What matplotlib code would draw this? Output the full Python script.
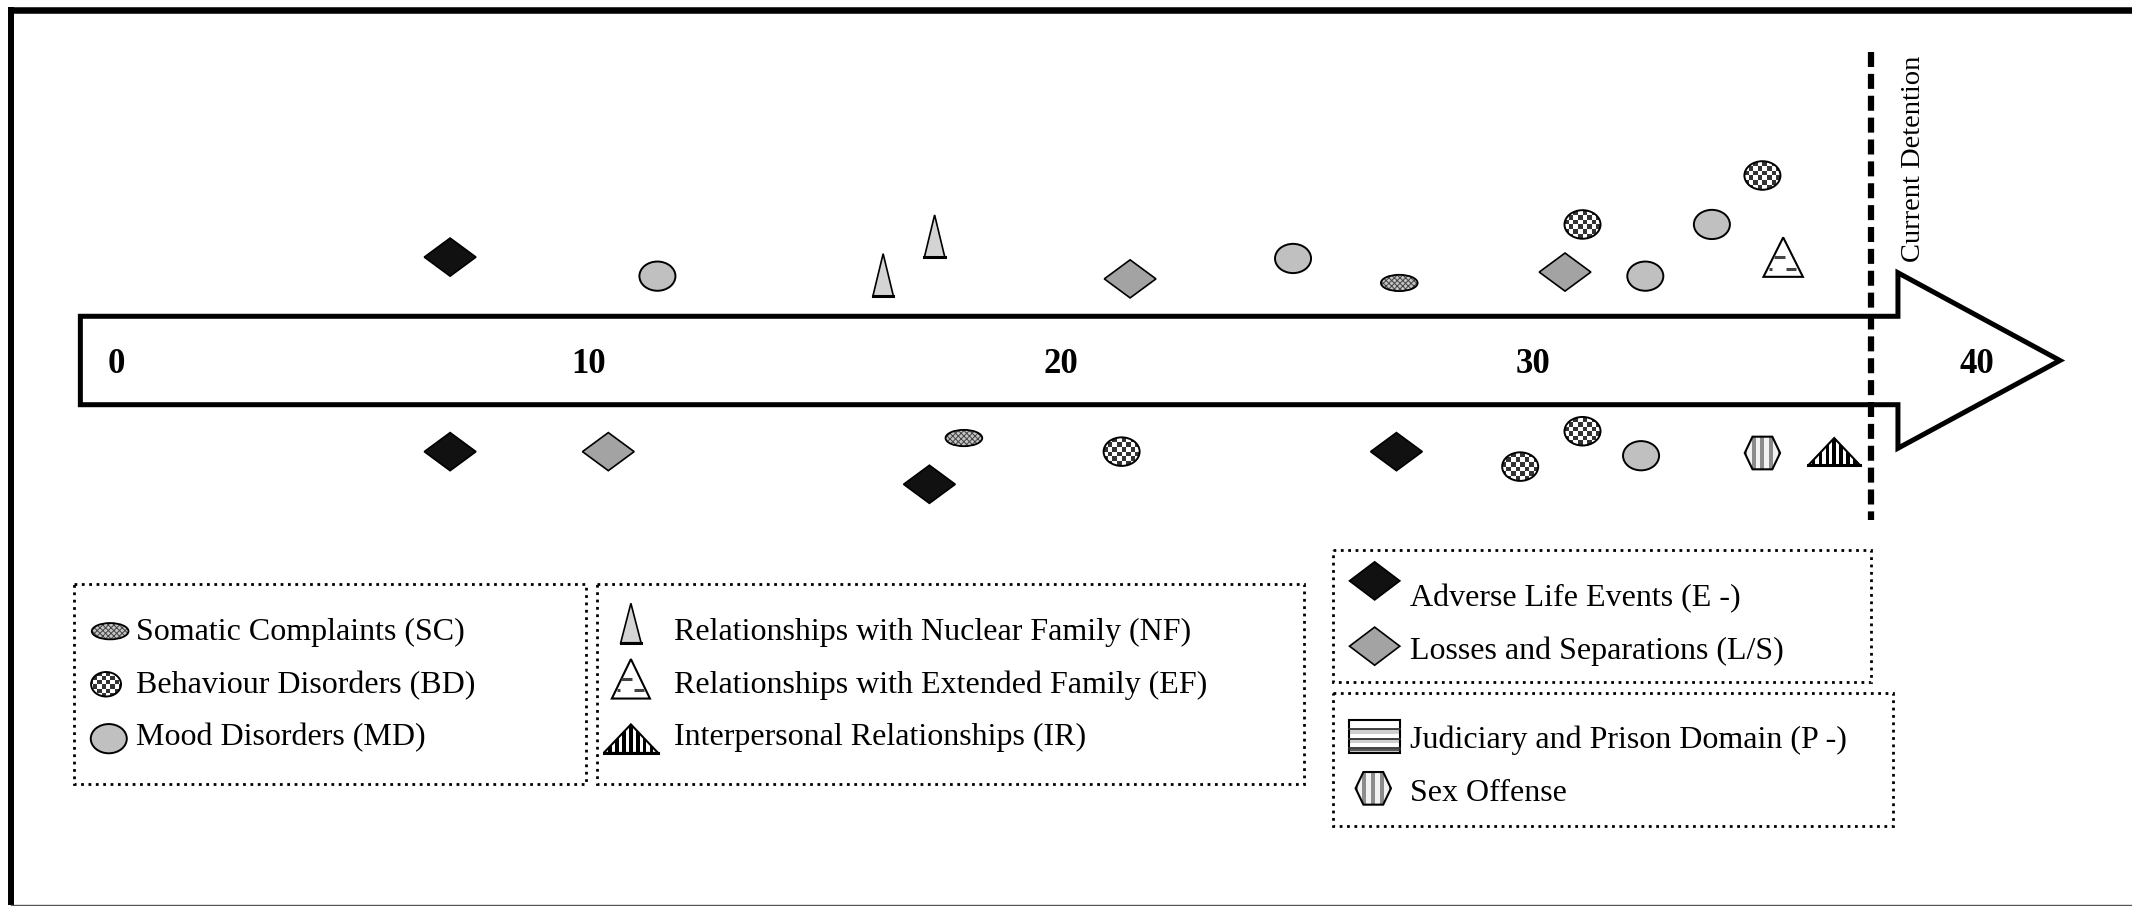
import matplotlib
matplotlib.use("Agg")
import matplotlib.pyplot as plt
from matplotlib.patches import Polygon, Ellipse, Rectangle
from matplotlib.collections import PatchCollection
from matplotlib.transforms import Affine2D, ScaledTranslation

plt.rcParams['font.family'] = ['Liberation Serif', 'DejaVu Serif']
plt.rcParams['hatch.linewidth'] = 0.7

# events: age (years) and vertical offset from the arrow (+ above, - below)
sc_age = [27.17, 17.95]
sc_off = [57, -57]
bd_age = [31.05, 34.86, 21.29, 29.73, 31.05]
bd_off = [100, 136, -67, -78, -52]
md_age = [11.46, 24.92, 32.38, 33.79, 32.29]
md_off = [62, 75, 62, 100, -70]
nf_age = [16.24, 17.33]
nf_off = [63, 91.5]
ef_age = [35.30]
ef_off = [76]
ir_age = [36.38]
ir_off = [-67]
e_age = [7.07, 7.07, 17.22, 27.11]
e_off = [76, -67, -91, -67]
ls_age = [21.47, 30.68, 10.42]
ls_off = [60, 65, -67]
so_age = [34.86]
so_off = [-68]

tick_labels = ['0', '10', '20', '30', '40']
tick_pos = [0, 10, 20, 30, 39.4]
detention_age = 37.16

W, H = 1568, 666          # layout grid
X0, PX = 85.5, 34.73      # x of age 0 and px per year
K = 1.36 / 100            # layout px -> inches

fig = plt.figure(figsize=(21.32, 9.06), dpi=100)
ax = fig.add_axes([0, 0, 1, 1])
ax.set_xlim(-X0 / PX, (W - X0) / PX)
ax.set_ylim(265 - H, 265)
ax.axis('off')
lay = fig.add_axes([0, 0, 1, 1])
lay.set_xlim(0, W)
lay.set_ylim(H, 0)
lay.axis('off')


def place(a, x, y):
    return Affine2D().scale(K) + fig.dpi_scale_trans + ScaledTranslation(x, y, a.transData)


def stripes(a, t, clip, w, h, period, width, color, vertical=True):
    rs = []
    n = int(max(w, h) / period) + 2
    for i in range(-n, n + 1):
        if vertical:
            rs.append(Rectangle((i * period - width / 2, -h), width, 2 * h))
        else:
            rs.append(Rectangle((-w, i * period - width / 2), 2 * w, width))
    pc = PatchCollection(rs, facecolor=color, edgecolor='none', transform=t)
    a.add_collection(pc, autolim=False)
    pc.set_clip_path(clip)


def diamond(a, x, y, fc, w=38, h=28):
    t = place(a, x, y)
    a.add_patch(Polygon([(-w / 2, 0), (0, h / 2), (w / 2, 0), (0, -h / 2)],
                        closed=True, fc=fc, ec='black', lw=1.2, transform=t))


def circle(a, x, y, w=26.5, h=21.5):
    t = place(a, x, y)
    a.add_patch(Ellipse((0, 0), w, h, fc='#c0c0c0', ec='black', lw=1.4, transform=t))


def checker(a, x, y, w=26.5, h=21, c=3.4):
    t = place(a, x, y)
    base = Ellipse((0, 0), w, h, fc='white', ec='none', transform=t)
    a.add_patch(base)
    sq = []
    n = int(max(w, h) / c / 2) + 2
    for i in range(-n, n):
        for j in range(-n, n):
            if (i + j) % 2 == 0:
                sq.append(Rectangle((i * c, j * c), c, c))
    pc = PatchCollection(sq, facecolor='#333333', edgecolor='none', transform=t)
    a.add_collection(pc, autolim=False)
    pc.set_clip_path(base)
    a.add_patch(Ellipse((0, 0), w, h, fc='none', ec='black', lw=1.4, transform=t))


def somatic(a, x, y, w=27, h=12):
    t = place(a, x, y)
    a.add_patch(Ellipse((0, 0), w, h, fc='#c4c4c4', ec='#444444', lw=0.3,
                        hatch='xxxxxx', transform=t))
    a.add_patch(Ellipse((0, 0), w, h, fc='none', ec='black', lw=1.3, transform=t))


def nuclear(a, x, y, w=15, h=31):
    t = place(a, x, y)
    a.add_patch(Polygon([(-w / 2, -h / 2), (w / 2, -h / 2), (0, h / 2)], closed=True,
                        fc='#d4d4d4', ec='black', lw=1.2, transform=t))
    a.plot([-w / 2, w / 2], [-h / 2, -h / 2], color='black', lw=2.2, transform=t)


def extended(a, x, y, w=29, h=29):
    t = place(a, x, y)
    a.add_patch(Polygon([(-w / 2, -h / 2), (w / 2, -h / 2), (0, h / 2)], closed=True,
                        fc='white', ec='black', lw=1.5, transform=t))
    for xs, ys in [([-7, 1], [0, 0]), ([-10.5, -8], [-8.5, -8.5]), ([2, 9.5], [-8.5, -8.5])]:
        a.plot(xs, ys, color='#444444', lw=2.2, solid_capstyle='butt', transform=t)


def interpersonal(a, x, y, w=38, h=20):
    t = place(a, x, y)
    base = Polygon([(-w / 2, -h / 2), (w / 2, -h / 2), (0, h / 2)], closed=True,
                   fc='white', ec='none', transform=t)
    a.add_patch(base)
    stripes(a, t, base, w, h, 5.1, 2.5, 'black')
    a.add_patch(Polygon([(-w / 2, -h / 2), (w / 2, -h / 2), (0, h / 2)], closed=True,
                        fc='none', ec='black', lw=1.5, transform=t))
    a.plot([-w / 2, w / 2], [-h / 2, -h / 2], color='black', lw=2.2, transform=t)


def hexagon(a, x, y, w=26, h=24):
    t = place(a, x, y)
    pts = [(-w / 2, 0), (-0.28 * w, h / 2), (0.28 * w, h / 2), (w / 2, 0),
           (0.28 * w, -h / 2), (-0.28 * w, -h / 2)]
    base = Polygon(pts, closed=True, fc='#f2f2f2', ec='none', transform=t)
    a.add_patch(base)
    stripes(a, t, base, w, h, 6.5, 3.0, '#8c8c8c')
    a.add_patch(Polygon(pts, closed=True, fc='none', ec='black', lw=1.5, transform=t))


def prison(a, x, y, w=37.5, h=24):
    t = place(a, x, y)
    a.add_patch(Rectangle((-w / 2, -h / 2), w, h, fc='white', ec='none', transform=t))
    for fy in [0.28, 0.56, 0.84]:
        yy = h / 2 - fy * h
        a.add_patch(Rectangle((-w / 2, yy - 3.2), w, 3.2, fc='#cfcfcf', ec='none', transform=t))
        a.plot([-w / 2, w / 2], [yy, yy], color='#333333', lw=1.3, transform=t)
    a.plot([-w / 2, w / 2], [-h / 2 + 2, -h / 2 + 2], color='#333333', lw=1.1, transform=t)
    a.add_patch(Rectangle((-w / 2, -h / 2), w, h, fc='none', ec='black', lw=1.5, transform=t))


# timeline arrow
body, head = 32.5, 64.5
left, base_x, tip = -0.76, 37.73, 41.16
ax.add_patch(Polygon([(left, -body), (left, body), (base_x, body), (base_x, head),
                      (tip, 0), (base_x, -head), (base_x, -body)], closed=True,
                     fc='white', ec='black', lw=3.6, joinstyle='miter'))
for p, lab in zip(tick_pos, tick_labels):
    ax.text(p, -9.5, lab, ha='center', va='baseline', fontsize=25, fontweight='bold')

# events
for x, y in zip(e_age, e_off):
    diamond(ax, x, y, '#111111')
for x, y in zip(ls_age, ls_off):
    diamond(ax, x, y, '#a3a3a3')
for x, y in zip(md_age, md_off):
    circle(ax, x, y)
for x, y in zip(bd_age, bd_off):
    checker(ax, x, y)
for x, y in zip(sc_age, sc_off):
    somatic(ax, x, y)
for x, y in zip(nf_age, nf_off):
    nuclear(ax, x, y)
for x, y in zip(ef_age, ef_off):
    extended(ax, x, y)
for x, y in zip(ir_age, ir_off):
    interpersonal(ax, x, y)
for x, y in zip(so_age, so_off):
    hexagon(ax, x, y)

# current detention marker
ax.plot([detention_age, detention_age], [227, -117], color='black', lw=4.5,
        dashes=(2.4, 1.1), dash_capstyle='butt')
lay.text(1407, 117, 'Current Detention', rotation=90, ha='center', va='center', fontsize=20.5)

# legend boxes
for x0, y0, x1, y1 in [(54.5, 429, 431, 576), (439, 429, 959, 576),
                       (980, 404, 1376, 501), (980, 509.5, 1392, 607)]:
    lay.add_patch(Rectangle((x0, y0), x1 - x0, y1 - y0, fill=False, ec='black',
                            lw=2, ls=':'))

fs = 23
somatic(lay, 81, 464)
lay.text(100, 465, 'Somatic Complaints (SC)', va='center', fontsize=fs)
checker(lay, 78, 503, w=22, h=18, c=3.2)
lay.text(100, 504, 'Behaviour Disorders (BD)', va='center', fontsize=fs)
circle(lay, 80, 543)
lay.text(100, 542, 'Mood Disorders (MD)', va='center', fontsize=fs)

nuclear(lay, 464, 458, w=15, h=29)
lay.text(496, 465, 'Relationships with Nuclear Family (NF)', va='center', fontsize=fs)
extended(lay, 464, 499, w=28, h=29)
lay.text(496, 504, 'Relationships with Extended Family (EF)', va='center', fontsize=fs)
interpersonal(lay, 464, 543, w=40, h=21)
lay.text(496, 542, 'Interpersonal Relationships (IR)', va='center', fontsize=fs)

diamond(lay, 1011, 427, '#111111', w=37, h=28)
lay.text(1037, 440, 'Adverse Life Events (E -)', va='center', fontsize=fs)
diamond(lay, 1011, 475, '#a3a3a3', w=37, h=28)
lay.text(1037, 479, 'Losses and Separations (L/S)', va='center', fontsize=fs)
prison(lay, 1011, 541.5)
lay.text(1037, 544, 'Judiciary and Prison Domain (P -)', va='center', fontsize=fs)
hexagon(lay, 1010, 579.5, w=26, h=24)
lay.text(1037, 583, 'Sex Offense', va='center', fontsize=fs)

# frame
lay.plot([6, W], [7.4, 7.4], color='black', lw=4.7, solid_capstyle='butt')
lay.plot([8, 8], [5, 665], color='black', lw=4.3, solid_capstyle='butt')
lay.plot([8, W], [665, 665], color='#555555', lw=1)

fig.savefig('out.png', dpi=100)
